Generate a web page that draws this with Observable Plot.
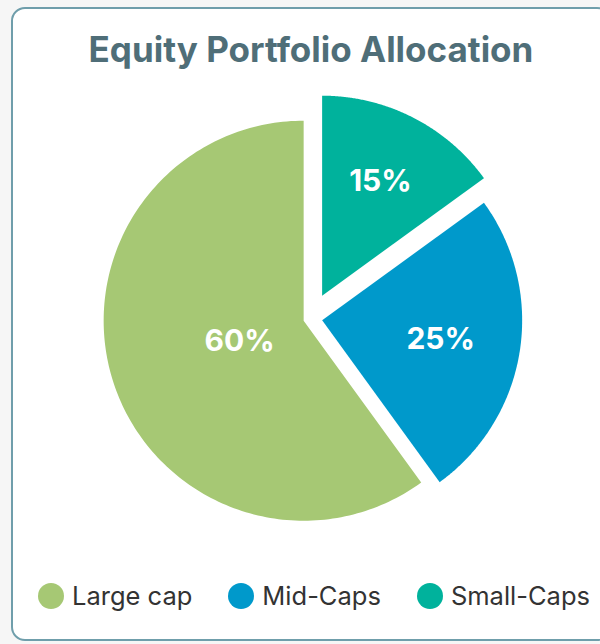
<!DOCTYPE html>
<html>
<head>
<meta charset="utf-8">
<script src="https://cdn.jsdelivr.net/npm/d3@7"></script>
<script src="https://cdn.jsdelivr.net/npm/@observablehq/plot@0.6"></script>
<style>
  html, body { margin: 0; padding: 0; }
  body { width: 600px; height: 644px; overflow: hidden; background: #f6f6f6; position: relative; }
  #card { position: absolute; left: 11px; top: 7px; width: 600px; height: 634px; box-sizing: border-box;
          border: 2px solid #6f9eab; border-radius: 14px; background: #fff; }
  #title { position: absolute; left: 11px; width: 600px; top: 32px; text-align: center;
           font-family: Inter, sans-serif; font-weight: 700; font-size: 35px; line-height: 1; color: #4f6e78; }
  #chart { position: absolute; left: 0; top: 80px; }
  #legend { position: absolute; left: 14px; width: 600px; top: 582px; display: flex; justify-content: center; gap: 36px;
            font-family: Inter, sans-serif; font-size: 25.5px; color: #333; line-height: 28px; }
  .item { display: flex; align-items: center; gap: 8px; }
  .sw { width: 26px; height: 26px; border-radius: 50%; display: inline-block; }
</style>
</head>
<body>
<div id="card"></div>
<div id="title"></div>
<div id="chart"></div>
<div id="legend"></div>
<script>
const title = "Equity Portfolio Allocation";
const categories = ["Large cap", "Mid-Caps", "Small-Caps"];
const shares = [60, 25, 15];
const shareLabels = ["60%", "25%", "15%"];
const colors = ["#a6c874", "#0099cb", "#00b29c"];

// drawing order clockwise from 12 o'clock
const sliceOrder = ["Small-Caps", "Mid-Caps", "Large cap"];
// exploded offsets (in radius units) – style
const explode = {"Large cap": 0.036, "Mid-Caps": 0.059, "Small-Caps": 0.128};

document.getElementById("title").textContent = title;

const W = 600, H = 470;
const radiusPx = 200, cxPx = 310, cyPx = 238;
const total = d3.sum(shares);
let acc = 0;
const features = sliceOrder.map(name => {
  const i = categories.indexOf(name);
  const a0 = acc / total * 2 * Math.PI;
  acc += shares[i];
  const a1 = acc / total * 2 * Math.PI;
  const mid = (a0 + a1) / 2;
  const e = explode[name];
  const ax = e * Math.sin(mid), ay = -e * Math.cos(mid);
  const ring = [[ax, ay]];
  const n = 180;
  for (let k = 0; k <= n; k++) {
    const t = a0 + (a1 - a0) * k / n;
    ring.push([ax + Math.sin(t), ay - Math.cos(t)]);
  }
  ring.push([ax, ay]);
  return {type: "Feature", properties: {name, label: shareLabels[i]}, geometry: {type: "Polygon", coordinates: [ring]}};
});

const x0 = -cxPx / radiusPx, x1 = (W - cxPx) / radiusPx;
const y0 = -cyPx / radiusPx, y1 = (H - cyPx) / radiusPx;
const frameDomain = {type: "Polygon", coordinates: [[[x0, y0], [x1, y0], [x1, y1], [x0, y1], [x0, y0]]]};

const chart = Plot.plot({
  width: W,
  height: H,
  margin: 0,
  projection: {type: "identity", domain: frameDomain, inset: 0},
  color: {domain: categories, range: colors},
  style: {background: "transparent"},
  marks: [
    Plot.geo(features, {fill: d => d.properties.name}),
    Plot.text(features, Plot.centroid({
      text: d => d.properties.label,
      fill: "white",
      fontSize: 30,
      fontWeight: 700,
      fontFamily: "Inter, sans-serif"
    }))
  ]
});
document.getElementById("chart").appendChild(chart);

const legend = document.getElementById("legend");
categories.forEach((c, i) => {
  const item = document.createElement("div");
  item.className = "item";
  const sw = document.createElement("span");
  sw.className = "sw";
  sw.style.background = colors[i];
  const tx = document.createElement("span");
  tx.textContent = c;
  item.appendChild(sw);
  item.appendChild(tx);
  legend.appendChild(item);
});
</script>
</body>
</html>
